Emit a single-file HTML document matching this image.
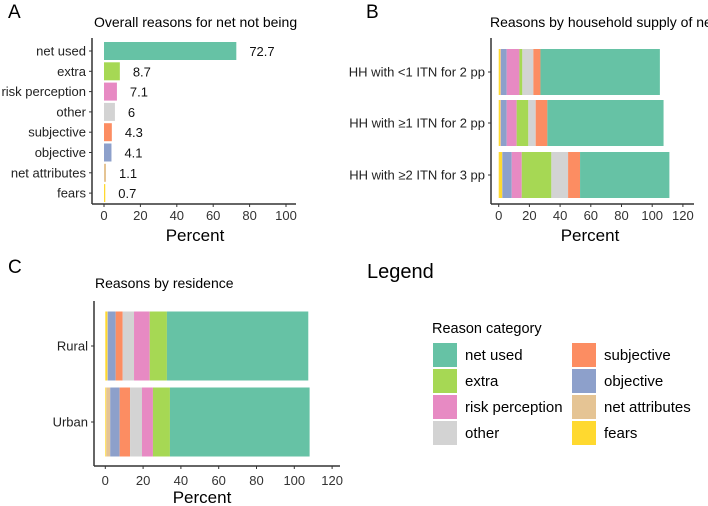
<!DOCTYPE html>
<html><head><meta charset="utf-8"><style>
html,body{margin:0;padding:0;background:#fff}
svg{display:block;font-family:"Liberation Sans",Arial,sans-serif}
</style></head><body>
<svg id="chart" width="708" height="506" viewBox="0 0 708 506">
<defs>
<clipPath id="clipA"><rect x="0" y="0" width="300" height="250"/></clipPath>
<clipPath id="clipB"><rect x="330" y="0" width="378" height="250"/></clipPath>
</defs>
<g id="pA" clip-path="url(#clipA)"></g>
<g id="pB" clip-path="url(#clipB)"></g>
<g id="pC"></g>
<g id="leg"></g>
</svg>
<script>
const NS='http://www.w3.org/2000/svg';
const reasons=['net used','extra','risk perception','other','subjective','objective','net attributes','fears'];
const colors={'net used':'#66c2a5','extra':'#a6d854','risk perception':'#e78ac3','other':'#d3d3d3','subjective':'#fc8d62','objective':'#8da0cb','net attributes':'#e5c494','fears':'#ffd92f'};
// Panel A
const overallValues=[72.7,8.7,7.1,6,4.3,4.1,1.1,0.7];
const ticksA=[0,20,40,60,80,100];
// Panel B (stack order left to right)
const stackOrderB=['fears','net attributes','objective','risk perception','extra','other','subjective','net used'];
const householdGroups=['HH with <1 ITN for 2 pp','HH with \u22651 ITN for 2 pp','HH with \u22652 ITN for 3 pp'];
const hh1=[0.9,0.6,3.7,8.3,1.9,7.2,4.6,77.8];
const hh2=[0.9,0.6,3.7,6.5,7.6,4.8,7.6,75.7];
const hh3=[2.2,0.2,6.1,6.5,19.3,10.9,7.8,58.2];
const ticksB=[0,20,40,60,80,100,120];
// Panel C
const stackOrderC=['fears','net attributes','objective','subjective','other','risk perception','extra','net used'];
const residenceGroups=['Rural','Urban'];
const rural=[1.1,0.2,4.2,3.7,6,8.3,9.1,74.8];
const urban=[0.5,2.1,5,5.5,6.3,5.8,9,73.9];
const ticksC=[0,20,40,60,80,100,120];

function el(tag,attrs,parent,text){const e=document.createElementNS(NS,tag);for(const k in attrs)e.setAttribute(k,attrs[k]);if(text!==undefined)e.textContent=text;parent.appendChild(e);return e;}
function axes(g,x0,yTop,yBot,xEnd,sx,ticks,tickY,percentY,percentX){
  const a=el('line',{x1:x0,y1:yTop,x2:x0,y2:yBot,stroke:'#333','stroke-width':1.5},g);
  
  const b=el('line',{x1:x0,y1:yBot,x2:xEnd,y2:yBot,stroke:'#333','stroke-width':1.5},g);
  
  ticks.forEach(t=>{const x=sx(t);
    const tk=el('line',{x1:x,y1:yBot,x2:x,y2:yBot+3,stroke:'#333','stroke-width':1},g);
    
    const tl=el('text',{x:x,y:tickY,'text-anchor':'middle','font-size':13,fill:'#333'},g,String(t));
    });
  const p=el('text',{x:percentX,y:percentY,'text-anchor':'middle','font-size':17,fill:'#000'},g,'Percent');
  
}
function ylab(g,xAxis,y,txt){
  const t=el('line',{x1:xAxis-3,y1:y,x2:xAxis,y2:y,stroke:'#333','stroke-width':1},g);
  
  const l=el('text',{x:xAxis-6,y:y+4.5,'text-anchor':'end','font-size':13,fill:'#222'},g,txt);
  
}
// Panel A
(function(){
  const g=document.getElementById('pA');
  const sx=v=>104+v*1.82;
  let t=el('text',{x:8,y:18,'font-size':19},g,'A');
  t=el('text',{x:94,y:27,'font-size':14},g,'Overall reasons for net not being used');
  axes(g,92,38,204,296,sx,ticksA,220,241,195);
  reasons.forEach((r,i)=>{const cy=51+i*20.3;
    const b=el('rect',{x:sx(0),y:cy-9,width:Math.max(sx(overallValues[i])-sx(0),0.8),height:18,fill:colors[r]},g);
    
    ylab(g,92,cy,r);
    const v=el('text',{x:sx(overallValues[i])+13,y:cy+5,'font-size':13,fill:'#111'},g,String(overallValues[i]));
    });
})();
function stacked(g,groups,data,order,sx,centers,h){
  groups.forEach((gr,i)=>{let acc=0;
    order.forEach((r,j)=>{const v=data[i][j];
      const b=el('rect',{x:sx(acc),y:centers[i]-h/2,width:sx(acc+v)-sx(acc),height:h,fill:colors[r]},g);
      
      acc+=v;});});
}
// Panel B
(function(){
  const g=document.getElementById('pB');
  const sx=v=>498.7+v*1.535;
  let t=el('text',{x:366,y:18,'font-size':19},g,'B');
  t=el('text',{x:490,y:27,'font-size':14},g,'Reasons by household supply of nets');
  const centers=[72,123,175];
  stacked(g,householdGroups,[hh1,hh2,hh3],stackOrderB,sx,centers,46);
  axes(g,491,38,204,694,sx,ticksB,220,241,590);
  householdGroups.forEach((h,i)=>ylab(g,491,centers[i],h));
})();
// Panel C
(function(){
  const g=document.getElementById('pC');
  const sx=v=>105.3+v*1.89;
  let t=el('text',{x:8,y:273,'font-size':19},g,'C');
  t=el('text',{x:95,y:288,'font-size':14},g,'Reasons by residence');
  const centers=[346,422];
  stacked(g,residenceGroups,[rural,urban],stackOrderC,sx,centers,69);
  axes(g,94,301,466,340,sx,ticksC,485,503,202);
  residenceGroups.forEach((h,i)=>ylab(g,94,centers[i],h));
})();
// Legend
(function(){
  const g=document.getElementById('leg');
  let t=el('text',{x:367,y:278,'font-size':20},g,'Legend');
  t=el('text',{x:432,y:333,'font-size':14.5},g,'Reason category');
  reasons.forEach((r,i)=>{const col=Math.floor(i/4),row=i%4;const x=col?572:433,y=343+row*26;
    const k=el('rect',{x:x,y:y,width:24,height:24,fill:colors[r]},g);
    
    const l=el('text',{x:x+32,y:y+17,'font-size':15},g,r);
    });
})();
</script>
</body></html>
